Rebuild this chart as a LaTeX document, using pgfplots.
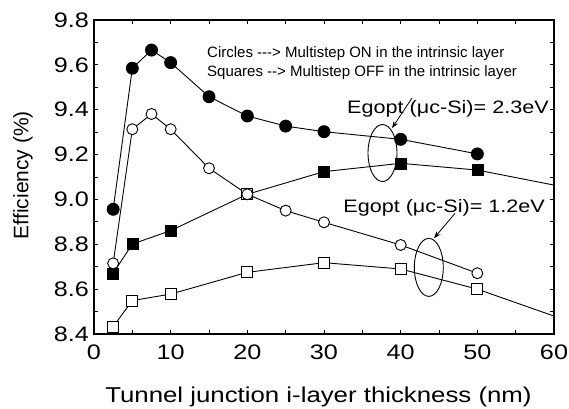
\documentclass[border=0pt]{standalone}
\usepackage{fontspec}
\setmainfont{Liberation Sans}[FakeStretch=1.2]
\newfontfamily\plainsans{Liberation Sans}
\usepackage{pgfplots}
\pgfplotsset{compat=1.18}
\usetikzlibrary{arrows.meta}

\begin{document}
\begin{tikzpicture}
\begin{axis}[
  scale only axis, width=460pt, height=314pt,
  xmin=0, xmax=60, ymin=8.4, ymax=9.8,
  xtick={0,10,20,30,40,50,60}, minor x tick num=1,
  ytick={8.4,8.6,8.8,9.0,9.2,9.4,9.6,9.8}, minor y tick num=1,
  tick align=inside, major tick length=4pt, minor tick length=4pt,
  axis line style={line width=1.2pt},
  every tick/.style={line width=0.9pt, black},
  /pgf/number format/assume math mode=true,
  tick label style={font=\fontsize{21}{25}\selectfont},
  y tick label style={inner sep=0pt, xshift=-5pt, /pgf/number format/.cd, fixed, fixed zerofill, precision=1},
  x tick label style={inner sep=0pt, yshift=-11pt},
  xlabel={Tunnel junction i-layer thickness (nm)},
  ylabel={Efficiency (\%)},
  xlabel style={at={(axis description cs:0.488,-0.2197)}, anchor=base, inner sep=0pt, font=\fontsize{21.5}{26}\selectfont},
  ylabel style={at={(axis description cs:-0.1543,0.506)}, anchor=center, inner sep=0pt, font=\plainsans\fontsize{21}{25}\selectfont},
  clip=true,
]
% Multistep ON, Egopt 2.3 eV (filled circles)
\addplot[black, line width=0.9pt, mark=*, mark size=6pt, mark options={fill=black}] coordinates {
 (2.5,8.956) (5,9.585) (7.5,9.666) (10,9.61) (15,9.458) (20,9.372) (25,9.327) (30,9.302) (40,9.268) (50,9.203)};
% Multistep OFF, Egopt 2.3 eV (filled squares)
\addplot[black, line width=0.9pt, no marks] coordinates {
 (2.5,8.671) (5,8.801) (10,8.861) (20,9.023) (30,9.124) (40,9.161) (50,9.131) (60,9.064)};
\addplot[black, only marks, mark=square*, mark size=5.5pt, mark options={fill=black}] coordinates {
 (2.5,8.671) (5,8.801) (10,8.861) (30,9.124) (40,9.161) (50,9.131)};
\addplot[black, only marks, line width=0.9pt, mark=square*, mark size=5.5pt, mark options={fill=white}] coordinates {
 (20,9.023)};
% Multistep ON, Egopt 1.2 eV (open circles)
\addplot[black, line width=0.9pt, mark=*, mark size=5.5pt, mark options={fill=white}] coordinates {
 (2.5,8.715) (5,9.313) (7.5,9.381) (10,9.313) (15,9.139) (20,9.023) (25,8.95) (30,8.898) (40,8.797) (50,8.671)};
% Multistep OFF, Egopt 1.2 eV (open squares)
\addplot[black, line width=0.9pt, no marks] coordinates {
 (2.5,8.433) (5,8.549) (10,8.578) (20,8.675) (30,8.718) (40,8.69) (50,8.6) (60,8.48)};
\addplot[black, only marks, line width=0.9pt, mark=square*, mark size=5.5pt, mark options={fill=white}] coordinates {
 (2.5,8.433) (5,8.549) (10,8.578) (20,8.675) (30,8.718) (40,8.69) (50,8.6)};

\node[anchor=base west, inner sep=0pt, font=\plainsans\fontsize{15}{18}\selectfont] at (axis cs:14.74,9.635) {Circles -{}-{}-{}> Multistep ON in the intrinsic layer};
\node[anchor=base west, inner sep=0pt, font=\plainsans\fontsize{15}{18}\selectfont] at (axis cs:14.74,9.546) {Squares -{}-{}> Multistep OFF in the intrinsic layer};

\node[anchor=base west, inner sep=0pt, font=\fontsize{18}{22}\selectfont] at (axis cs:33.0,9.381) {Egopt (μc-Si)= 2.3eV};
\node[anchor=base west, inner sep=0pt, font=\fontsize{18}{22}\selectfont] at (axis cs:32.5,8.943) {Egopt (μc-Si)= 1.2eV};

\draw[line width=0.9pt] (axis cs:37.63,9.207) ellipse [x radius=14.5pt, y radius=28.5pt];
\draw[line width=0.9pt] (axis cs:43.67,8.697) ellipse [x radius=14.5pt, y radius=29pt];
\draw[line width=0.8pt, -{Stealth[length=7pt,width=5pt]}] (axis cs:41.48,9.452) -- (axis cs:38.87,9.318);
\draw[line width=0.8pt, -{Stealth[length=7pt,width=5pt]}] (axis cs:47.09,8.938) -- (axis cs:44.35,8.827);
\end{axis}
\pgfresetboundingbox
\path[use as bounding box] (-94pt,-74pt) rectangle (475pt,334pt);
\end{tikzpicture}
\end{document}
